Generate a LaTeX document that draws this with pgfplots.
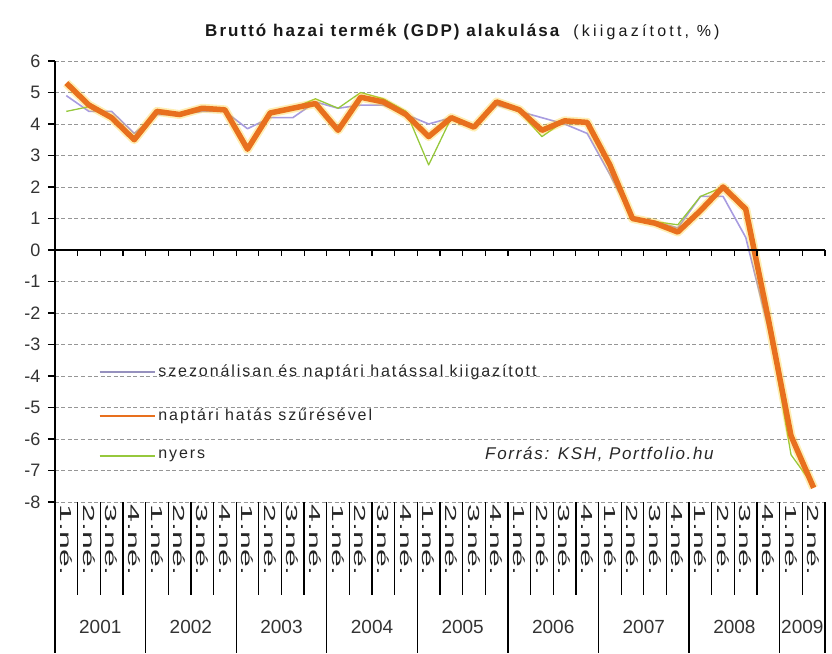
\documentclass[border=0pt]{standalone}
\usepackage{pgfplots}
\pgfplotsset{compat=1.18}
\usepackage{pgfplotstable}
\usepackage{fontspec}
\setmainfont{Liberation Sans}
\newfontfamily\legfont[LetterSpace=12]{Liberation Sans}
\newfontfamily\titlefont[LetterSpace=12]{Liberation Sans}
\newfontfamily\subfont[LetterSpace=20]{Liberation Sans}
\newfontfamily\srcfont[LetterSpace=10]{Liberation Sans}
\newfontfamily\qfont[FakeStretch=2.0]{Liberation Sans}
\definecolor{szacol}{RGB}{168,156,224}
\definecolor{szaleg}{RGB}{150,145,190}
\definecolor{napcol}{RGB}{232,112,30}
\definecolor{nyerscol}{RGB}{150,200,60}
\definecolor{gridcol}{RGB}{150,150,150}

% quarterly GDP change (%), 2001 Q1 .. 2009 Q2
\pgfplotstableread{
i   sza   nap    nyers
0   4.9   5.3    4.4
1   4.4   4.6    4.55
2   4.4   4.2    4.2
3   3.7   3.5    3.6
4   4.3   4.4    4.4
5   4.3   4.3    4.3
6   4.4   4.5    4.5
7   4.4   4.45   4.4
8   3.85  3.2    3.3
9   4.2   4.35   4.3
10  4.2   4.5    4.5
11  4.7   4.65   4.8
12  4.5   3.8    4.5
13  4.6   4.85   5.0
14  4.6   4.7    4.8
15  4.3   4.3    4.4
16  4.0   3.6    2.7
17  4.2   4.2    4.2
18  3.9   3.9    3.9
19  4.6   4.7    4.7
20  4.4   4.45   4.4
21  4.2   3.8    3.6
22  4.0   4.1    4.1
23  3.7   4.05   4.0
24  2.4   2.7    2.7
25  1.0   1.0    1.0
26  0.9   0.85   0.9
27  0.7   0.57   0.8
28  1.7   1.25   1.7
29  1.7   2.0    2.0
30  0.4   1.3    1.2
31  -2.5  -2.2   -2.3
32  -6.0  -5.9   -6.5
33  -7.5  -7.55  -7.5
}\gdp

\begin{document}
\begin{tikzpicture}
\begin{axis}[
  scale only axis, width=770pt, height=441pt,
  xmin=-0.5, xmax=33.5, ymin=-8, ymax=6,
  clip=false,
  axis y line*=left, axis x line*=bottom,
  x axis line style={draw=none},
  y axis line style={black, line width=1.6pt},
  ytick={-8,...,6},
  yticklabels={-8,-7,-6,-5,-4,-3,-2,-1,0,1,2,3,4,5,6},
  yticklabel style={font=\fontsize{18}{18}\selectfont, text=black!80, xshift=-4pt},
  tick align=outside,
  major tick length=7pt,
  major y tick style={black, line width=1.2pt},
  major x tick style={draw=none},
  xtick={0,...,33},
  xticklabels={1.né.,2.né.,3.né.,4.né.,1.né.,2.né.,3.né.,4.né.,1.né.,2.né.,3.né.,4.né.,1.né.,2.né.,3.né.,4.né.,1.né.,2.né.,3.né.,4.né.,1.né.,2.né.,3.né.,4.né.,1.né.,2.né.,3.né.,4.né.,1.né.,2.né.,3.né.,4.né.,1.né.,2.né.},
  xticklabel style={font=\qfont\fontsize{16}{16}\selectfont, rotate=-90, anchor=west, text=black!85, xshift=-8pt},
  ymajorgrids,
  major grid style={gridcol, dash pattern=on 4pt off 2.5pt, line width=0.7pt},
]
\addplot[szacol, line width=1.6pt, line join=round] table[x=i, y=sza]{\gdp};
\addplot[nyerscol, line width=1.3pt, line join=round] table[x=i, y=nyers]{\gdp};
\addplot[yellow!60!orange, opacity=0.3, line width=9pt, line join=round] table[x=i, y=nap]{\gdp};
\addplot[napcol, line width=5.5pt, line join=round] table[x=i, y=nap]{\gdp};

% legend, drawn by hand (no frame, as in the source)
\draw[szaleg, line width=1.4pt] (rel axis cs:0.058,0.295) -- (rel axis cs:0.130,0.295);
\node[anchor=west, inner sep=0pt, text=black!85, font=\legfont\fontsize{16}{16}\selectfont] at (rel axis cs:0.134,0.295) {szezonálisan és naptári hatással kiigazított};
\draw[napcol, line width=1.4pt] (rel axis cs:0.058,0.195) -- (rel axis cs:0.130,0.195);
\node[anchor=west, inner sep=0pt, text=black!85, font=\legfont\fontsize{16}{16}\selectfont] at (rel axis cs:0.134,0.195) {naptári hatás szűrésével};
\draw[nyerscol, line width=1.4pt] (rel axis cs:0.058,0.104) -- (rel axis cs:0.130,0.104);
\node[anchor=west, inner sep=0pt, text=black!85, font=\legfont\fontsize{16}{16}\selectfont] at (rel axis cs:0.134,0.104) {nyers};

% zero line with category ticks
\draw[black, line width=1.6pt] (axis cs:-0.5,0) -- (axis cs:33.5,0);
\pgfplotsinvokeforeach{-0.5,0.5,...,33.5}{\draw[black, line width=1.2pt] (axis cs:#1,0) -- ([yshift=-6pt]axis cs:#1,0);}
% category separators below the plot
\pgfplotsinvokeforeach{0.5,1.5,2.5,4.5,5.5,6.5,8.5,9.5,10.5,12.5,13.5,14.5,16.5,17.5,18.5,20.5,21.5,22.5,24.5,25.5,26.5,28.5,29.5,30.5,32.5}{\draw[black, line width=1.3pt] (axis cs:#1,-8) -- ([yshift=-93pt]axis cs:#1,-8);}
\pgfplotsinvokeforeach{-0.5,3.5,7.5,11.5,15.5,19.5,23.5,27.5,31.5,33.5}{\draw[black, line width=1.3pt] (axis cs:#1,-8) -- ([yshift=-151pt]axis cs:#1,-8);}
% year labels
\pgfplotsinvokeforeach{2001,...,2008}{\node[font=\fontsize{19}{19}\selectfont, text=black!80] at ([yshift=-125pt]axis cs:{(#1-2001)*4+1.5},-8) {#1};}
\node[font=\fontsize{19}{19}\selectfont, text=black!80] at ([yshift=-125pt]axis cs:32.5,-8) {2009};

\node[anchor=base west, xshift=150pt, yshift=24pt, text=black!90, inner sep=0pt] at (rel axis cs:0,1)
  {\titlefont\fontsize{17}{17}\selectfont\textbf{Bruttó hazai termék (GDP) alakulása}\hspace{12pt}{\subfont\fontsize{16}{16}\selectfont(kiigazított, \%)}};
\node[anchor=base west, xshift=430pt, yshift=43pt, text=black!85, inner sep=0pt] at (rel axis cs:0,0)
  {\srcfont\fontsize{17}{17}\selectfont\itshape Forrás: KSH, Portfolio.hu};

\coordinate (SW) at (rel axis cs:0,0);
\coordinate (NE) at (rel axis cs:1,1);
\end{axis}
\pgfresetboundingbox
\path[use as bounding box] ([shift={(-55pt,-151pt)}]SW) rectangle ([shift={(7pt,61pt)}]NE);
\end{tikzpicture}
\end{document}
